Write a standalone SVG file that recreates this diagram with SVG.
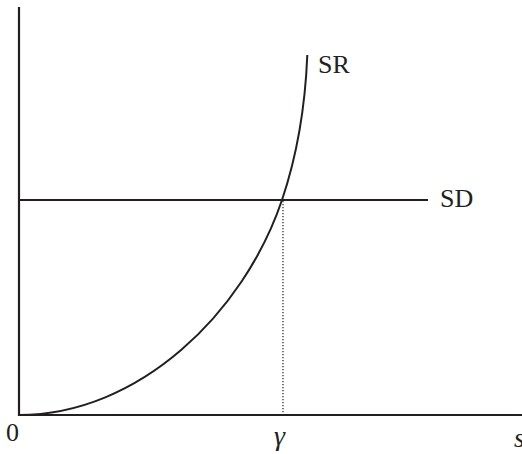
<svg xmlns="http://www.w3.org/2000/svg" width="522" height="454" viewBox="0 0 522 454">
<style>
.ax{stroke:#231f20;stroke-width:2.2;fill:none}
.ln{stroke:#231f20;stroke-width:2;fill:none}
.dot{stroke:#231f20;stroke-width:1.2;fill:none;stroke-dasharray:1.2 1.8}
.t{font-family:"Liberation Serif","Times New Roman",Times,serif;font-size:26px;fill:#231f20}
.i{font-style:italic}
</style>
<rect width="522" height="454" fill="#fff"/>
<g id="axes">
<path class="ax" d="M19,7 V415 H522"/>
</g>
<g id="connectors">
<path id="sd-line" class="ln" d="M19,200 H428"/>
<path id="gamma-drop" class="dot" d="M283,201 V414"/>
</g>
<g id="sr">
<path class="ln" d="M19,415 C139,415 243.6,313.6 282,200 C298,152.6 305.5,100 307.3,55"/>
<text class="t" x="318" y="73">SR</text>
</g>
<g id="sd">
<text class="t" x="440" y="207">SD</text>
</g>
<g id="labels">
<text class="t" x="6" y="441">0</text>
<text class="t i" x="274" y="445" style="font-size:28px">γ</text>
<text class="t i" x="514" y="447" style="font-size:28px">s</text>
</g>
</svg>
